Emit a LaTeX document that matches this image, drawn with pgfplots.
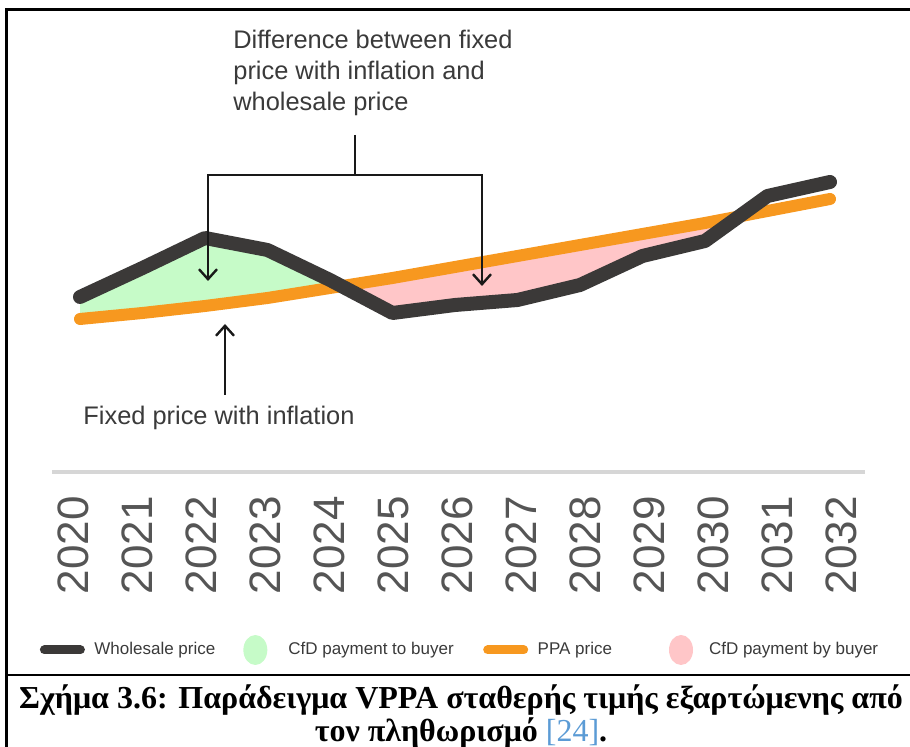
\documentclass[border=0pt]{standalone}
\usepackage{fontspec}
\setmainfont{Liberation Serif}
\newfontfamily\chartsans{Liberation Sans}
\usepackage{pgfplots}
\usepackage{pgfplotstable}
\pgfplotsset{compat=1.18}
\usepgfplotslibrary{fillbetween}
\usetikzlibrary{arrows.meta}

\definecolor{wholesale}{HTML}{3B3938}
\definecolor{ppaorange}{HTML}{F7981F}
\definecolor{cfdgreen}{HTML}{C6FBC8}
\definecolor{cfdpink}{HTML}{FFC6C8}
\definecolor{axisgray}{HTML}{D6D6D6}
\definecolor{ticktext}{HTML}{555555}
\definecolor{annot}{HTML}{3A3A3A}
\definecolor{refblue}{HTML}{5B9BD5}

\pgfplotsset{
  linelegend/.style={legend image code/.code={\draw[##1,line cap=round] (0pt,0pt)--(18pt,0pt);}},
  dotlegend/.style={legend image code/.code={\fill[##1,draw=none] (6pt,0pt) ellipse (6pt and 7.5pt);}},
}

% year, wholesale price, fixed (PPA) price -- arbitrary units
\pgfplotstableread{
year wholesale ppa
2020 450 428
2021 479 434
2022 509 441
2023 497 449
2024 467 459
2025 434 469
2026 442 480
2027 447 491
2028 462 502
2029 491 513
2030 506 524
2031 551 536
2032 565 548
}\prices

\begin{document}
\begin{tikzpicture}
\begin{axis}[
  scale only axis, width=406.5pt, height=231pt,
  xmin=2019.552, xmax=2032.56, ymin=275, ymax=737,
  axis y line=none, axis x line*=bottom,
  axis line style={draw=axisgray, line width=2pt},
  major tick length=0pt,
  xtick={2019.888,2020.912,2021.936,2022.960,2023.984,2025.008,2026.032,2027.056,2028.080,2029.104,2030.128,2031.152,2032.176},
  xticklabels={2020,2021,2022,2023,2024,2025,2026,2027,2028,2029,2030,2031,2032},
  xticklabel style={rotate=90, anchor=east, inner sep=0pt,
    font=\chartsans\fontsize{22}{22}\selectfont, text=ticktext},
  xticklabel shift=12pt,
  clip=false,
  legend columns=4,
  legend style={draw=none, fill=none, inner sep=0pt,
    at={(axis cs:2019.352,97)}, anchor=west,
    font=\chartsans\fontsize{8.5}{10}\selectfont, text=annot,
    nodes={inner sep=0pt},
    /tikz/column 1/.style={column sep=4.75pt},
    /tikz/column 2/.style={column sep=14pt},
    /tikz/column 3/.style={column sep=10.5pt},
    /tikz/column 4/.style={column sep=14.75pt},
    /tikz/column 5/.style={column sep=4.75pt},
    /tikz/column 6/.style={column sep=28.5pt},
    /tikz/column 7/.style={column sep=8pt},
  },
]
\addlegendimage{linelegend, line width=4.5pt, color=wholesale}
\addlegendentry{Wholesale price}
\addlegendimage{dotlegend, fill=cfdgreen}
\addlegendentry{CfD payment to buyer}
\addlegendimage{linelegend, line width=4.5pt, color=ppaorange}
\addlegendentry{PPA price}
\addlegendimage{dotlegend, fill=cfdpink}
\addlegendentry{CfD payment by buyer}

\addplot[draw=none, name path=W, forget plot] table[x=year, y=wholesale] {\prices};
\addplot[draw=none, name path=P, forget plot] table[x=year, y=ppa] {\prices};
\addplot[forget plot] fill between[of=W and P, split,
  every segment no 0/.style={fill=cfdgreen},
  every segment no 1/.style={fill=cfdpink},
  every segment no 2/.style={fill=none, draw=none}];
\addplot[forget plot, color=ppaorange, line width=6pt, line cap=round, line join=round]
  table[x=year, y=ppa] {\prices};
\addplot[forget plot, color=wholesale, line width=7pt, line cap=round, line join=round]
  table[x=year, y=wholesale] {\prices};
\end{axis}

% annotations and frame, in picture pixels
\begin{scope}[x=0.5pt, y=-0.5pt, shift={(-52,-472)}]
\useasboundingbox (0,0) rectangle (910,747);
\draw[line width=1.5pt] (7,747) -- (7,10) -- (910,10);
\draw[line width=1pt] (7,675) -- (910,675);

\node[anchor=north west, align=left, inner sep=0pt, text=annot,
  font=\chartsans\fontsize{12.7}{15.5}\selectfont] at (233,30)
  {Difference between fixed\\price with inflation and\\wholesale price};
\draw[line width=1.2pt, black!90] (355,135) -- (355,175);
\draw[line width=1.2pt, black!90, {Straight Barb[length=5pt,width=9pt]}-{Straight Barb[length=5pt,width=9pt]}]
  (208,281) -- (208,175) -- (482,175) -- (482,286);
\draw[line width=1.2pt, black!90, -{Straight Barb[length=5pt,width=9pt]}] (225,395) -- (225,324);
\node[anchor=west, inner sep=0pt, text=annot,
  font=\chartsans\fontsize{12.7}{15.5}\selectfont] at (83,418) {Fixed price with inflation};

\node[anchor=north, align=center, inner sep=0pt,
  font=\bfseries\fontsize{16}{16.5}\selectfont] at (461,684)
  {Σχήμα 3.6: Παράδειγμα VPPA σταθερής τιμής εξαρτώμενης από\\
   τον πληθωρισμό {\mdseries\color{refblue}[24]}.};
\end{scope}
\end{tikzpicture}
\end{document}
